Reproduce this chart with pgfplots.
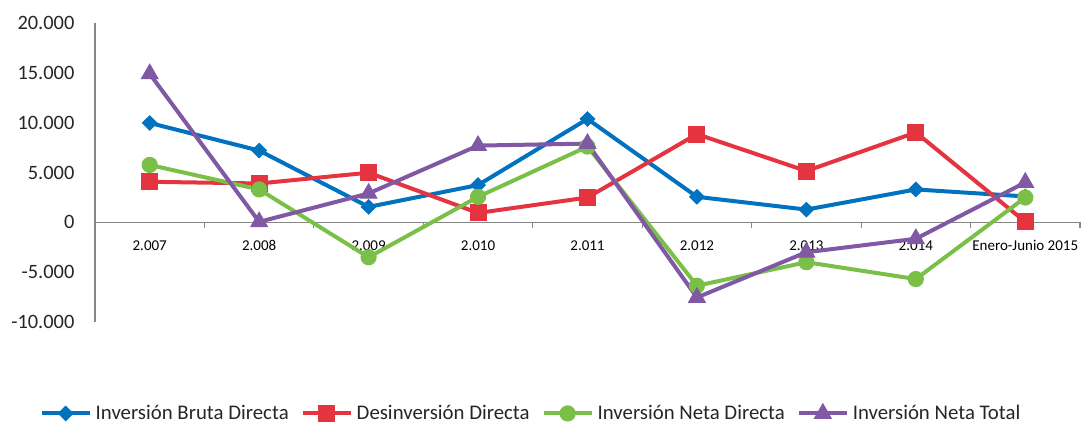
\documentclass[border=0pt]{standalone}
\usepackage{fontspec}
\setmainfont{Carlito}
\usepackage{pgfplots}
\pgfplotsset{compat=1.18}
\definecolor{cblue}{RGB}{0,114,192}
\definecolor{cred}{RGB}{228,52,64}
\definecolor{cgreen}{RGB}{122,192,72}
\definecolor{cpurple}{RGB}{128,88,164}
\definecolor{caxis}{RGB}{134,134,134}
\begin{document}
\begin{tikzpicture}
\path[use as bounding box] (-47.5pt,-50.5pt) rectangle (493pt,161pt);
\begin{axis}[
  scale only axis, width=492.5pt, height=149.5pt,
  xmin=-0.5, xmax=8.5, ymin=-10000, ymax=20000,
  axis x line=middle, axis y line=left,
  axis line style={-, caxis, line width=0.6pt},
  xtick={0,...,8},
  xticklabels={2.007,2.008,2.009,2.010,2.011,2.012,2.013,2.014,Enero-Junio 2015},
  major x tick style={draw=none},
  minor xtick={-0.5,0.5,...,8.5},
  minor tick length=3pt,
  minor x tick style={caxis, line width=0.6pt},
  tick align=outside,
  xticklabel style={font=\fontsize{7.5}{9}\selectfont, anchor=north, text height=5.4pt, text depth=1.5pt, yshift=-1pt, text=black},
  ytick={-10000,-5000,0,5000,10000,15000,20000},
  major y tick style={draw=none},
  yticklabel style={font=\fontsize{10.2}{12}\selectfont, xshift=-2.5pt, text=black!85},
  /pgf/number format/.cd, 1000 sep={.}, assume math mode=true,
  /pgfplots/.cd,
  scaled y ticks=false,
  clip=false,
  every axis plot/.append style={line width=2pt},
  legend style={draw=none, fill=none, legend columns=4,
    font=\fontsize{10.4}{12}\selectfont, text=black!85,
    at={(0.4437,-0.262)}, anchor=north,
    /tikz/every even column/.append style={column sep=4pt},
    inner sep=0pt},
  legend image code/.code={\draw[mark repeat=2,mark phase=2] plot coordinates {(0pt,0pt) (12pt,0pt) (24pt,0pt)};},
  legend cell align=left,
]
\addplot[cblue, mark=diamond*, mark size=3.6pt, mark options={xscale=1.35, line width=0.5pt}] coordinates {
(0,9970) (1,7200) (2,1550) (3,3740) (4,10370) (5,2560) (6,1280) (7,3300) (8,2600)};
\addlegendentry{Inversión Bruta Directa}
\addplot[cred, mark=square*, mark size=4pt, mark options={line width=0.5pt}] coordinates {
(0,4070) (1,3900) (2,4980) (3,940) (4,2490) (5,8850) (6,5150) (7,9020) (8,50)};
\addlegendentry{Desinversión Directa}
\addplot[cgreen, mark=*, mark size=3.8pt, mark options={line width=0.5pt}] coordinates {
(0,5760) (1,3300) (2,-3500) (3,2560) (4,7600) (5,-6360) (6,-4000) (7,-5690) (8,2490)};
\addlegendentry{Inversión Neta Directa}
\addplot[cpurple, mark=triangle*, mark size=4.8pt, mark options={line width=0.5pt}] coordinates {
(0,14900) (1,50) (2,2900) (3,7700) (4,7900) (5,-7540) (6,-3000) (7,-1650) (8,4000)};
\addlegendentry{Inversión Neta Total}
\end{axis}
\end{tikzpicture}
\end{document}
